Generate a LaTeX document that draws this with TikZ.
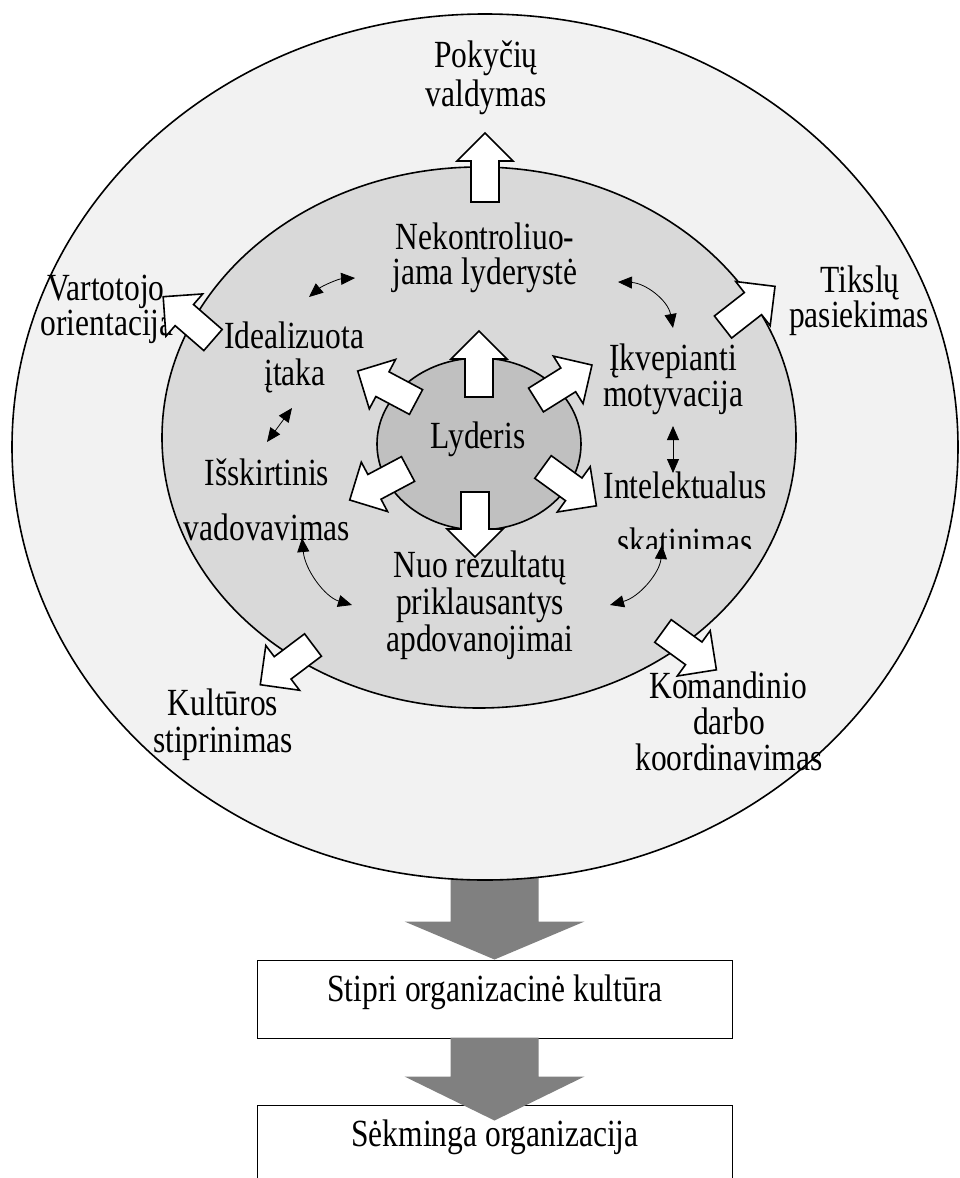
\documentclass[tikz,border=0pt]{standalone}
\usepackage{fontspec}
\setmainfont{Liberation Serif}
\usetikzlibrary{arrows.meta,shapes.geometric,calc}
\definecolor{outerfill}{HTML}{F2F2F2}
\definecolor{midfill}{HTML}{D9D9D9}
\definecolor{innerfill}{HTML}{C0C0C0}
\definecolor{arrgray}{HTML}{808080}
\newcommand{\blockarrow}[4]{%
  \begin{scope}[shift={(#1,#2)}, rotate=#3]
    \draw[blockarr] (0pt,-14pt) -- ({#4pt-28pt},-14pt) -- ({#4pt-28pt},-28pt) -- (#4pt,0pt)
      -- ({#4pt-28pt},28pt) -- ({#4pt-28pt},14pt) -- (0pt,14pt) -- cycle;
  \end{scope}}
\begin{document}
\begin{tikzpicture}[x=1pt,y=-1pt,
  lbl/.style={font=\fontsize{31.5}{37}\selectfont, inner sep=0pt, anchor=base, yscale=1.22, transform shape},
  blockarr/.style={draw=black, fill=white, line width=1.6pt, line join=miter},
  dbl/.style={line width=0.8pt, {Triangle[length=14pt,width=12pt]}-{Triangle[length=14pt,width=12pt]}},
  ring/.style={draw=black, ellipse, inner sep=0pt, line width=1.6pt},
  box/.style={draw=black, line width=1pt, fill=white, inner sep=0pt}]
\clip (0,0) rectangle (959,1178);
\fill[white] (0,0) rectangle (959,1178);

% boxes
\node[box, minimum width=475pt, minimum height=78pt] (box1) at (494.5,999) {};
\node[box, minimum width=475pt, minimum height=120pt] (box2) at (494.5,1165) {};

% gray arrows
\fill[arrgray] (box1.north) -- ++(90,-38) -- ++(-46,0) -- ++(0,-48) -- ++(-88,0) -- ++(0,48) -- ++(-46,0) -- cycle;
\fill[arrgray] ([yshift=-16pt]box2.north) -- ++(90,-44) -- ++(-46,0) -- ++(0,-39) -- ++(-88,0) -- ++(0,39) -- ++(-46,0) -- cycle;

% ellipses
\node[ring, fill=outerfill, minimum width=946pt, minimum height=866pt] (outer) at (485,447) {};
\node[ring, fill=midfill, minimum width=634pt, minimum height=541pt] (mid) at (479,437.5) {};
\node[ring, fill=innerfill, minimum width=204pt, minimum height=172pt] (inner) at (479,444) {};

% texts
\node[lbl] (t1a) at (486,67) {Pokyčių};
\node[lbl] (t1b) at (486,106) {valdymas};
\node[lbl] (t2a) at (485,249) {Nekontroliuo-};
\node[lbl] (t2b) at (485,284) {jama lyderystė};
\node[lbl] (t3a) at (106,300) {Vartotojo};
\node[lbl] (t3b) at (107,335) {orientacija};
\node[lbl] (t4a) at (860,292) {Tikslų};
\node[lbl] (t4b) at (859,327) {pasiekimas};
\node[lbl] (t5a) at (294,348) {Idealizuota};
\node[lbl] (t5b) at (295,385) {įtaka};
\node[lbl] (t6a) at (673,370) {Įkvepianti};
\node[lbl] (t6b) at (673,406) {motyvacija};
\node[lbl] (t7a) at (267,485) {Išskirtinis};
\node[lbl] (t7b) at (267,540) {vadovavimas};
\node[lbl] (t8a) at (685,498) {Intelektualus};
\begin{scope}
  \clip (590,520) rectangle (790,548);
  \node[lbl] (t8b) at (685,554) {skatinimas};
\end{scope}
\node[lbl] (lyd) at (478,448) {Lyderis};
\node[lbl] (t9a) at (480,577) {Nuo rezultatų};
\node[lbl] (t9b) at (480,614) {priklausantys};
\node[lbl] (t9c) at (480,651) {apdovanojimai};
\node[lbl] (t10a) at (223,715) {Kultūros};
\node[lbl] (t10b) at (223,752) {stiprinimas};
\node[lbl] (t11a) at (728,698) {Komandinio};
\node[lbl] (t11b) at (729,734) {darbo};
\node[lbl] (t11c) at (729,770) {koordinavimas};
\node[lbl] (s1) at (495,1001) {Stipri organizacinė kultūra};
\node[lbl] (s2) at (495,1146) {Sėkminga organizacija};

% small double arrows
\coordinate (a1s) at (309,297); \coordinate (a1e) at (355,278);
\draw[dbl] (a1s) .. controls (322,286) and (338,279) .. (a1e);
\coordinate (a2s) at (618,282); \coordinate (a2e) at (673,328);
\draw[dbl] (a2s) .. controls (645,283) and (668,300) .. (a2e);
\coordinate (a3s) at (292,408); \coordinate (a3e) at (267,442);
\draw[dbl] (a3s) -- (a3e);
\coordinate (a4s) at (673,426); \coordinate (a4e) at (673,473);
\draw[dbl] (a4s) -- (a4e);
\coordinate (a5s) at (302,538); \coordinate (a5e) at (352,605);
\draw[dbl] (a5s) .. controls (305,570) and (325,597) .. (a5e);
\coordinate (a6s) at (662,545); \coordinate (a6e) at (610,605);
\draw[dbl] (a6s) .. controls (660,572) and (640,597) .. (a6e);

% inner block arrows
\blockarrow{479}{397}{90}{66}
\blockarrow{475}{492}{-90}{65}
\blockarrow{416}{402}{152}{66}
\blockarrow{536}{400}{32}{66}
\blockarrow{408}{469}{-152}{66}
\blockarrow{543}{467}{-36}{66}

% outer block arrows
\blockarrow{485}{202}{90}{69}
\blockarrow{213}{340}{139}{66}
\blockarrow{723}{327}{38}{66}
\blockarrow{313}{645}{-143}{66}
\blockarrow{663}{631}{-36}{66}
\end{tikzpicture}
\end{document}
